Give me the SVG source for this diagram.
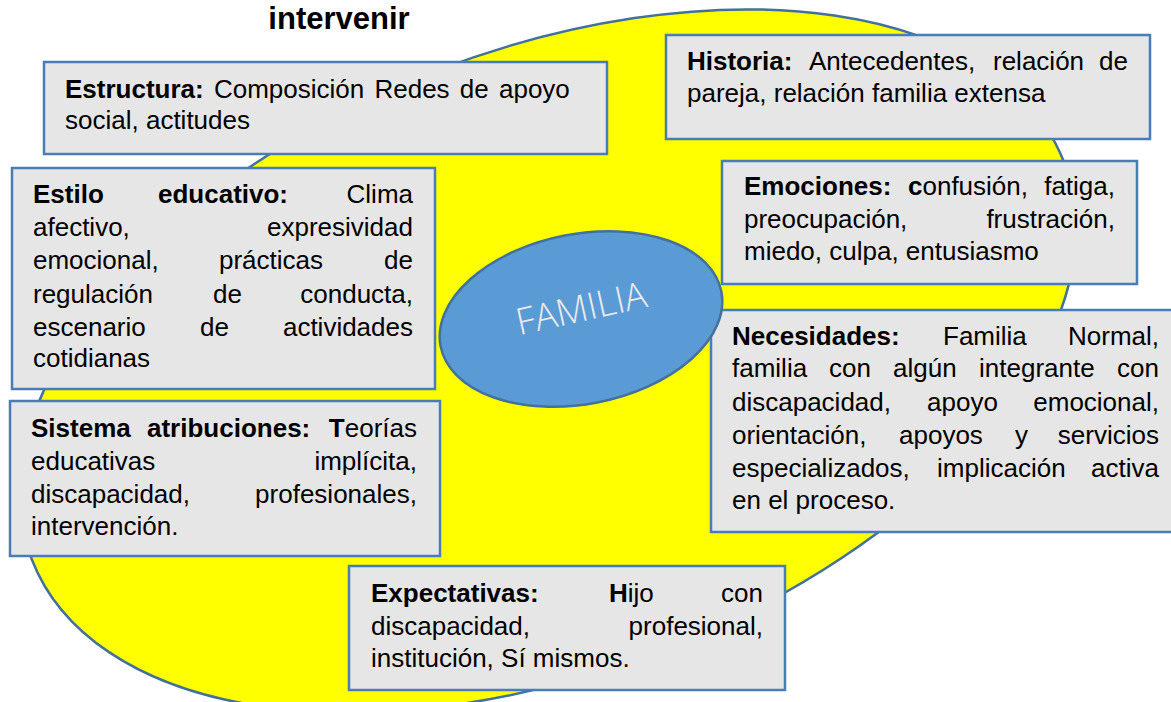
<svg xmlns="http://www.w3.org/2000/svg" width="1171" height="702" viewBox="0 0 1171 702">
<style>
.box{fill:#E6E6E6;stroke:#4A7CB8;stroke-width:2.5}
.t{font-family:"Liberation Sans",Arial,sans-serif;font-size:26px;fill:#000}
.b{font-weight:bold}
.e{text-anchor:end}
</style>
<rect width="1171" height="702" fill="#fff"/>
<g id="fondo">
<ellipse cx="548" cy="361" rx="553" ry="311" transform="rotate(-21 548 361)" fill="#FFFF00" stroke="#41719C" stroke-width="2.5"/>
</g>
<g id="title">
<text x="339" y="29" text-anchor="middle" font-family="'Liberation Sans',Arial,sans-serif" font-weight="bold" font-size="31" fill="#000">intervenir</text>
</g>
<g id="connectors"></g>
<g id="estructura">
<rect class="box" x="44" y="62" width="563" height="92"/>
<text class="t" x="65" y="98" word-spacing="3"><tspan class="b">Estructura:</tspan> Composición Redes de apoyo</text>
<text class="t" x="65" y="129">social, actitudes</text>
</g>
<g id="estilo">
<rect class="box" x="12" y="168" width="423" height="221"/>
<text class="t" y="203"><tspan x="33" class="b">Estilo</tspan><tspan x="158" class="b">educativo:</tspan><tspan x="413" class="e">Clima</tspan></text>
<text class="t" y="236"><tspan x="33">afectivo,</tspan><tspan x="413" class="e">expresividad</tspan></text>
<text class="t" y="269"><tspan x="33">emocional,</tspan><tspan x="219">prácticas</tspan><tspan x="413" class="e">de</tspan></text>
<text class="t" y="303"><tspan x="33">regulación</tspan><tspan x="213">de</tspan><tspan x="413" class="e">conducta,</tspan></text>
<text class="t" y="336"><tspan x="33">escenario</tspan><tspan x="200">de</tspan><tspan x="413" class="e">actividades</tspan></text>
<text class="t" x="33" y="367">cotidianas</text>
</g>
<g id="sistema">
<rect class="box" x="10" y="401" width="430" height="155"/>
<text class="t" y="437"><tspan x="31" class="b">Sistema</tspan><tspan x="147" class="b">atribuciones:</tspan><tspan x="417" class="e"><tspan class="b">T</tspan>eorías</tspan></text>
<text class="t" y="470"><tspan x="31">educativas</tspan><tspan x="417" class="e">implícita,</tspan></text>
<text class="t" y="503"><tspan x="31">discapacidad,</tspan><tspan x="417" class="e">profesionales,</tspan></text>
<text class="t" x="31" y="535">intervención.</text>
</g>
<g id="expectativas">
<rect class="box" x="349" y="566" width="436" height="124"/>
<text class="t" y="602"><tspan x="371" class="b">Expectativas:</tspan><tspan x="609"><tspan class="b">H</tspan>ijo</tspan><tspan x="763" class="e">con</tspan></text>
<text class="t" y="635"><tspan x="371">discapacidad,</tspan><tspan x="763" class="e">profesional,</tspan></text>
<text class="t" x="371" y="667">institución, Sí mismos.</text>
</g>
<g id="historia">
<rect class="box" x="666" y="35" width="484" height="104"/>
<text class="t" y="70"><tspan x="687" class="b">Historia:</tspan><tspan x="809">Antecedentes,</tspan><tspan x="993">relación</tspan><tspan x="1128" class="e">de</tspan></text>
<text class="t" x="687" y="102">pareja, relación familia extensa</text>
</g>
<g id="emociones">
<rect class="box" x="722" y="161" width="415" height="123"/>
<text class="t" y="195"><tspan x="744" class="b">Emociones:</tspan><tspan x="908"><tspan class="b">c</tspan>onfusión,</tspan><tspan x="1115" class="e">fatiga,</tspan></text>
<text class="t" y="228"><tspan x="744">preocupación,</tspan><tspan x="1115" class="e">frustración,</tspan></text>
<text class="t" x="744" y="260">miedo, culpa, entusiasmo</text>
</g>
<g id="necesidades">
<rect class="box" x="711" y="310" width="480" height="222"/>
<text class="t" y="345"><tspan x="732" class="b">Necesidades:</tspan><tspan x="943">Familia</tspan><tspan x="1159" class="e">Normal,</tspan></text>
<text class="t" y="377"><tspan x="732">familia</tspan><tspan x="829">con</tspan><tspan x="893">algún</tspan><tspan x="979">integrante</tspan><tspan x="1159" class="e">con</tspan></text>
<text class="t" y="411"><tspan x="732">discapacidad,</tspan><tspan x="927">apoyo</tspan><tspan x="1159" class="e">emocional,</tspan></text>
<text class="t" y="444"><tspan x="732">orientación,</tspan><tspan x="899">apoyos</tspan><tspan x="1015">y</tspan><tspan x="1159" class="e">servicios</tspan></text>
<text class="t" y="477"><tspan x="732">especializados,</tspan><tspan x="937">implicación</tspan><tspan x="1159" class="e">activa</tspan></text>
<text class="t" x="732" y="509">en el proceso.</text>
</g>
<g id="familia">
<ellipse cx="581" cy="319" rx="143" ry="85" transform="rotate(-11 581 319)" fill="#5B9BD5" stroke="#41719C" stroke-width="2.5"/>
<text x="584" y="321" transform="rotate(-12.5 584 321)" text-anchor="middle" font-family="'Open Sans','Liberation Sans',sans-serif" font-weight="300" font-size="37" fill="#EBEBEB">FAMILIA</text>
</g>
</svg>
